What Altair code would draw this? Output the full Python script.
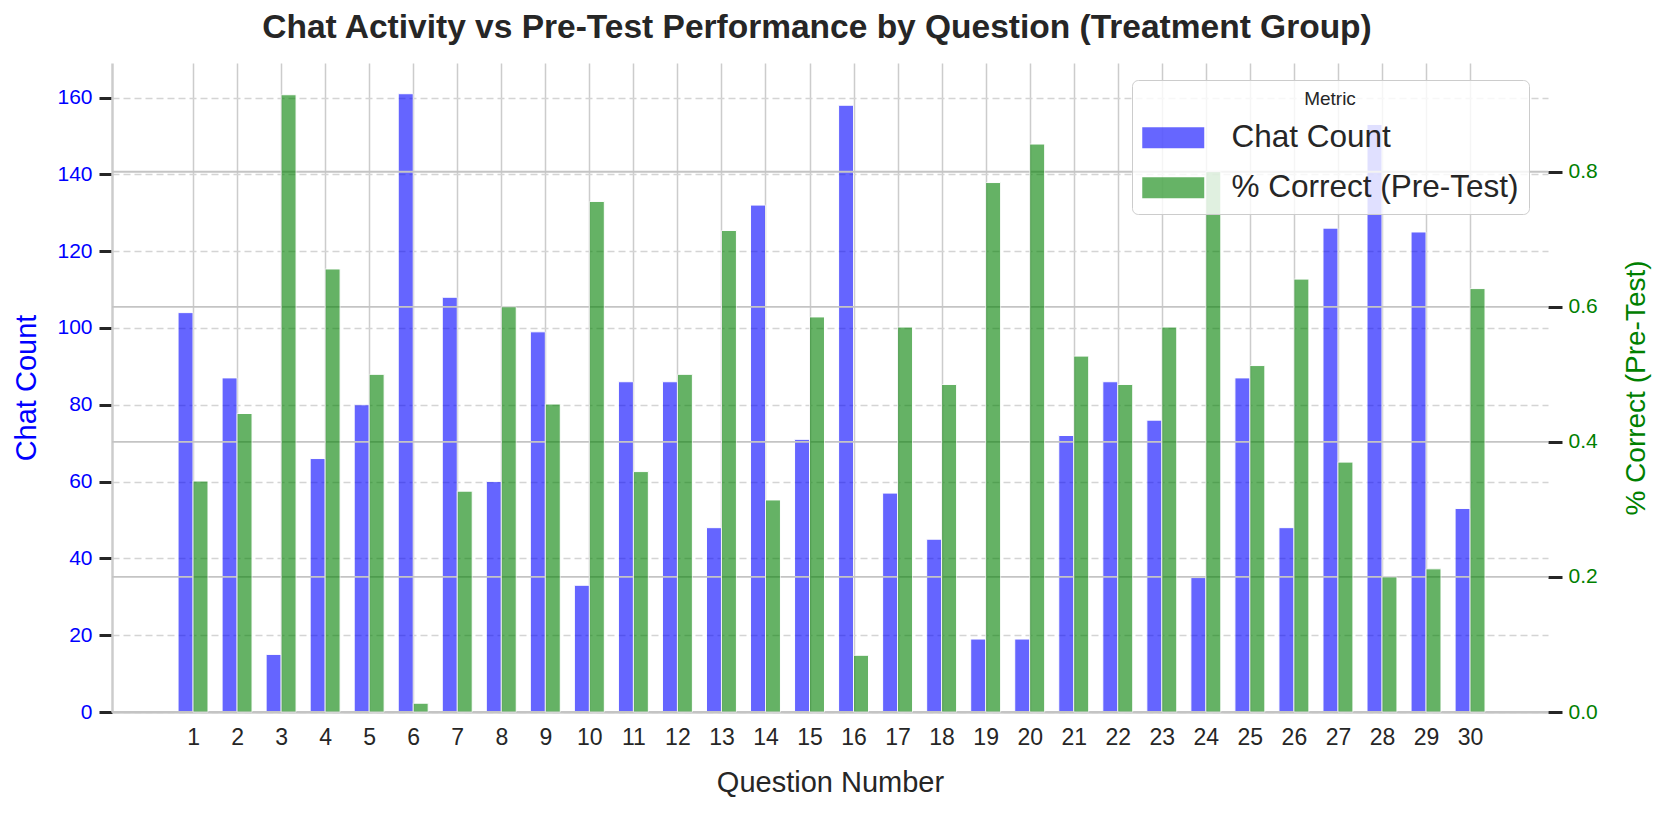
import altair as alt
import pandas as pd

# ---- data ----
questions = list(range(1, 31))
chat_count = [104, 87, 15, 66, 80, 161, 108, 60, 99, 33,
              86, 86, 48, 132, 71, 158, 57, 45, 19, 19,
              72, 86, 76, 35, 87, 48, 126, 153, 125, 53]
pct_correct = [0.342, 0.442, 0.914, 0.656, 0.500, 0.013, 0.327, 0.600, 0.456, 0.756,
               0.356, 0.500, 0.713, 0.314, 0.585, 0.084, 0.570, 0.485, 0.784, 0.841,
               0.527, 0.485, 0.570, 0.800, 0.513, 0.641, 0.370, 0.200, 0.212, 0.627]
metrics = ["Chat Count", "% Correct (Pre-Test)"]
metric_colors = ["blue", "green"]
left_ticks = [0, 20, 40, 60, 80, 100, 120, 140, 160]
right_ticks = [0.0, 0.2, 0.4, 0.6, 0.8]

FONT = "Liberation Sans"
DARK = "#262626"
BAR_W = 0.34

rows = []
for q, c, p in zip(questions, chat_count, pct_correct):
    rows.append({"q": q, "metric": metrics[0], "value": c, "side": -1})
    rows.append({"q": q, "metric": metrics[1], "value": p, "side": 1})
df = pd.DataFrame(rows)
grid_df = pd.DataFrame({"t": right_ticks})

W, H = 1436, 649

x_scale = alt.Scale(domain=[-0.84, 31.77], nice=False, zero=False)
x_axis = alt.Axis(values=questions, format="d", title="Question Number",
                  grid=True, gridColor="#cccccc", gridWidth=1.5,
                  ticks=False, tickSize=0, domainColor="#cccccc", domainWidth=2.5,
                  labelFontSize=23, labelColor=DARK, labelPadding=14, labelFont=FONT,
                  titleFontSize=29, titleFontWeight="normal", titleColor=DARK,
                  titleFont=FONT, titlePadding=19)

left_axis = alt.Axis(orient="left", values=left_ticks, title="Chat Count",
                     grid=True, gridColor="#d4d4d4", gridWidth=1.5, gridDash=[7, 4],
                     domainColor="#cccccc", domainWidth=2.5,
                     tickColor=DARK, tickSize=13, tickWidth=3,
                     labelFontSize=21, labelColor="blue", labelPadding=7, labelFont=FONT,
                     titleFontSize=29, titleFontWeight="normal", titleColor="blue",
                     titleFont=FONT, titlePadding=15)

right_axis = alt.Axis(orient="right", values=right_ticks, format=".1f",
                      title="% Correct (Pre-Test)", grid=False, domain=False,
                      tickColor=DARK, tickSize=14, tickWidth=3,
                      labelFontSize=21, labelColor="green", labelPadding=6, labelFont=FONT,
                      titleFontSize=28, titleFontWeight="normal", titleColor="green",
                      titleFont=FONT, titlePadding=53, titleAngle=270)

color_enc = alt.Color(
    "metric:N",
    scale=alt.Scale(domain=metrics, range=metric_colors),
    legend=alt.Legend(
        title="Metric", orient="none", legendX=1020, legendY=17,
        fillColor="rgba(255,255,255,0.8)", strokeColor="#cccccc", cornerRadius=6,
        padding=10, titleAnchor="middle", titleFontSize=19, titleFontWeight="normal",
        titleColor=DARK, titleFont=FONT, titlePadding=13,
        labelFontSize=31.5, labelColor=DARK, labelFont=FONT, labelOffset=58, labelLimit=0,
        symbolType="M-1,-0.68H3V0.68H-1Z", symbolSize=961, symbolOpacity=0.6,
        symbolStrokeWidth=0, rowPadding=17,
    ),
)

base = alt.Chart(df).transform_calculate(
    x0="datum.q + (datum.side < 0 ? -%f : 0)" % BAR_W,
    x1="datum.q + (datum.side < 0 ? 0 : %f)" % BAR_W,
    base="0",
)

blue = base.transform_filter(alt.datum.metric == metrics[0]).mark_bar(
    opacity=0.6, stroke="white", strokeWidth=1
).encode(
    x=alt.X("x0:Q", scale=x_scale, axis=x_axis),
    x2="x1:Q",
    y=alt.Y("value:Q", scale=alt.Scale(domain=[0, 169], nice=False), axis=left_axis),
    y2="base:Q",
    color=color_enc,
)

right_scale = alt.Scale(domain=[0, 0.961], nice=False)

right_grid = alt.Chart(grid_df).mark_rule(color="#c4c4c4", strokeWidth=1.8).encode(
    y=alt.Y("t:Q", scale=right_scale, axis=right_axis),
)

green = base.transform_filter(alt.datum.metric == metrics[1]).mark_bar(
    opacity=0.6, stroke="white", strokeWidth=1
).encode(
    x=alt.X("x0:Q", scale=x_scale, axis=x_axis),
    x2="x1:Q",
    y=alt.Y("value:Q", scale=right_scale, axis=right_axis),
    y2="base:Q",
    color=color_enc,
)

right_layer = alt.layer(right_grid, green)

chart = alt.layer(blue, right_layer).resolve_scale(
    y="independent"
).properties(
    width=W, height=H,
    autosize=alt.AutoSizeParams(type="none"),
    padding={"left": 104, "top": 55, "right": 105, "bottom": 93},
    title=alt.TitleParams(
        "Chat Activity vs Pre-Test Performance by Question (Treatment Group)",
        fontSize=33.5, fontWeight="bold", color=DARK, font=FONT,
        anchor="middle", offset=18, dx=-13,
    ),
).configure_view(stroke=None)

chart.save("out.html", embed_options={"renderer": "svg", "actions": False})
